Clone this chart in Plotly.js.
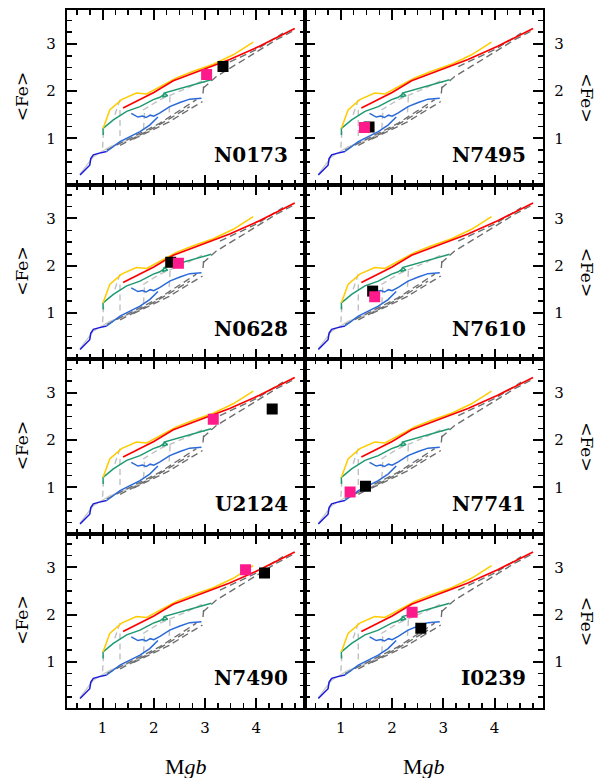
<!DOCTYPE html>
<html>
<head>
<meta charset="utf-8">
<script src="https://cdn.plot.ly/plotly-3.0.1.min.js"></script>
<style>html,body{margin:0;padding:0;background:#fff;}#chart{width:603px;height:778px;}</style>
</head>
<body>
<div id="chart"></div>
<script>
// ---- galaxies (panel order: row by row, left then right) ----
const galNames = ['N0173','N7495','N0628','N7610','U2124','N7741','N7490','I0239'];
const magX = [3.03, 1.46, 2.48, 1.66, 3.16, 1.18, 3.79, 2.39];
const magY = [2.35, 1.23, 2.05, 1.34, 2.44, 0.90, 2.95, 2.05];
const blkX = [3.35, 1.55, 2.33, 1.62, 4.31, 1.48, 4.16, 2.56];
const blkY = [2.52, 1.24, 2.07, 1.46, 2.66, 1.02, 2.88, 1.71];

// ---- model grid (same in every panel) ----
const yelX = [1.01, 1.14, 1.37, 1.66, 1.86, 2.12, 2.44, 2.77, 3.16, 3.55, 3.94];
const yelY = [1.21, 1.60, 1.82, 1.96, 1.94, 2.09, 2.28, 2.42, 2.57, 2.77, 3.04];
const redX = [1.40, 1.70, 2.00, 2.38, 2.70, 3.03, 3.48, 4.06, 4.75];
const redY = [1.64, 1.80, 1.97, 2.22, 2.35, 2.48, 2.67, 2.95, 3.33];
const grnX = [1.01, 1.01, 1.21, 1.47, 1.73, 1.99, 2.12, 2.22, 2.27, 2.18, 2.20, 2.44, 2.77, 3.12];
const grnY = [1.07, 1.21, 1.39, 1.57, 1.67, 1.82, 1.87, 1.95, 1.90, 1.88, 1.96, 2.03, 2.13, 2.24];
const bluLoX = [1.08, 1.34, 1.73, 1.92, 2.08];
const bluLoY = [0.72, 0.93, 1.14, 1.28, 1.45];
const bluHiX = [1.56, 1.62, 1.69, 1.78, 1.85, 1.93, 2.00, 2.12, 2.31, 2.51, 2.70, 2.93];
const bluHiY = [1.53, 1.50, 1.45, 1.47, 1.44, 1.49, 1.47, 1.54, 1.67, 1.76, 1.83, 1.85];
const dbluX = [0.56, 0.66, 0.75, 0.77, 0.82, 0.92, 1.08];
const dbluY = [0.22, 0.33, 0.43, 0.57, 0.65, 0.68, 0.72];
const lgSolX = [0.56, 0.82, 1.14, 1.47, 1.86];
const lgSolY = [0.24, 0.61, 0.82, 0.95, 1.14];
const lgDashX = [1.00, 1.02, null, 1.34, 1.34, null, 1.24, 1.34, null, 1.79, 2.12, 2.64, 3.00, null, 2.30, 2.32, null, 1.80, 1.82];
const lgDashY = [0.80, 1.15, null, 1.05, 1.65, null, 1.50, 1.82, null, 1.60, 1.82, 2.06, 2.25, null, 1.55, 1.95, null, 1.20, 1.60];
const dgX = [1.08, 2.12, 2.83, null, 1.34, 2.05, 2.70, null, 1.60, 2.30, 2.95, null, 2.96, 2.98, null, 2.96, 3.22, 3.81, 4.39, 4.71, null, 3.29, 4.00, 4.52];
const dgY = [0.75, 1.32, 1.82, null, 0.85, 1.25, 1.67, null, 0.98, 1.35, 1.78, null, 1.95, 2.20, null, 2.06, 2.31, 2.70, 3.09, 3.27, null, 2.52, 2.88, 3.23];

const xRange = [0.3, 4.95];
const yRange = [0.02, 3.72];

const W = 603, H = 778;
const colPx = [[66.7, 305], [305, 543.3]];
const rowPx = [[10, 184.5], [184.5, 359], [359, 533.5], [533.5, 708]];

const traces = [];
const layout = {
  width: W, height: H,
  margin: {l: 0, r: 0, t: 0, b: 0},
  paper_bgcolor: '#fff', plot_bgcolor: '#fff',
  showlegend: false,
  annotations: []
};

function line(x, y, color, width, dash, ax) {
  return {type: 'scatter', mode: 'lines', x: x, y: y, xaxis: 'x' + ax, yaxis: 'y' + ax,
    line: {color: color, width: width, dash: dash || 'solid'}, connectgaps: false, hoverinfo: 'skip'};
}

const tickFont = {family: 'DejaVu Serif, serif', size: 15, color: '#000'};

for (let i = 0; i < 8; i++) {
  const r = Math.floor(i / 2), c = i % 2;
  const n = i + 1;
  const xd = [colPx[c][0] / W, colPx[c][1] / W];
  const yd = [1 - rowPx[r][1] / H, 1 - rowPx[r][0] / H];
  const common = {
    showline: true, linewidth: 2, linecolor: '#000', mirror: 'allticks',
    ticks: 'inside', ticklen: 10, tickwidth: 2, tickcolor: '#000',
    tick0: 0, dtick: 1,
    minor: {tick0: 0, dtick: 0.25, ticks: 'inside', ticklen: 5, tickwidth: 1.5, tickcolor: '#000', showgrid: false},
    showgrid: false, zeroline: false, fixedrange: true, tickfont: tickFont
  };
  layout['xaxis' + (n === 1 ? '' : n)] = Object.assign({}, common, {
    domain: xd, range: xRange, anchor: 'y' + n,
    showticklabels: r === 3, ticklabelstandoff: 5
  });
  layout['yaxis' + (n === 1 ? '' : n)] = Object.assign({}, common, {
    domain: yd, range: yRange, anchor: 'x' + n,
    side: c === 0 ? 'left' : 'right', showticklabels: true, ticklabelstandoff: 6
  });

  traces.push(line(lgSolX, lgSolY, '#c8c8c8', 1.4, 'solid', n));
  traces.push(line(lgDashX, lgDashY, '#c0c0c0', 1.4, '6px,4px', n));
  traces.push(line(dgX, dgY, '#6e6e6e', 1.4, '7px,4px', n));
  traces.push(line(dbluX, dbluY, '#1a1adc', 1.5, 'solid', n));
  traces.push(line(bluLoX, bluLoY, '#2a6ad8', 1.5, 'solid', n));
  traces.push(line(bluHiX, bluHiY, '#2a6ad8', 1.5, 'solid', n));
  traces.push(line(grnX, grnY, '#1f9a70', 1.5, 'solid', n));
  traces.push(line(yelX, yelY, '#ffcc00', 1.5, 'solid', n));
  traces.push(line(redX, redY, '#ff0000', 1.7, 'solid', n));

  traces.push({type: 'scatter', mode: 'markers', x: [blkX[i]], y: [blkY[i]], xaxis: 'x' + n, yaxis: 'y' + n,
    marker: {symbol: 'square', size: 11, color: '#000'}, hoverinfo: 'skip'});
  traces.push({type: 'scatter', mode: 'markers', x: [magX[i]], y: [magY[i]], xaxis: 'x' + n, yaxis: 'y' + n,
    marker: {symbol: 'square', size: 11, color: '#ff1a8c'}, hoverinfo: 'skip'});

  layout.annotations.push({
    text: galNames[i], xref: 'x' + n + ' domain', yref: 'y' + n + ' domain',
    x: 0.937, y: 0.17, xanchor: 'right', yanchor: 'middle', showarrow: false,
    font: {family: 'DejaVu Serif, serif', size: 20, color: '#000', weight: 'bold'}
  });

  const ymid = 1 - (rowPx[r][0] + rowPx[r][1]) / 2 / H;
  layout.annotations.push({
    text: '&lt;Fe&gt;', xref: 'paper', yref: 'paper',
    x: c === 0 ? 22 / W : 587 / W, y: ymid, xanchor: 'center', yanchor: 'middle',
    textangle: c === 0 ? -90 : 90, showarrow: false,
    font: {family: 'DejaVu Serif, serif', size: 17, color: '#000'}
  });
}

for (let c = 0; c < 2; c++) {
  layout.annotations.push({
    text: 'M<i>gb</i>', xref: 'paper', yref: 'paper',
    x: (colPx[c][0] + colPx[c][1]) / 2 / W, y: 1 - 766 / H, xanchor: 'center', yanchor: 'middle',
    showarrow: false, font: {family: 'Liberation Serif, DejaVu Serif, serif', size: 22, color: '#000'}
  });
}

Plotly.newPlot('chart', traces, layout, {staticPlot: true, displayModeBar: false});
</script>
</body>
</html>
